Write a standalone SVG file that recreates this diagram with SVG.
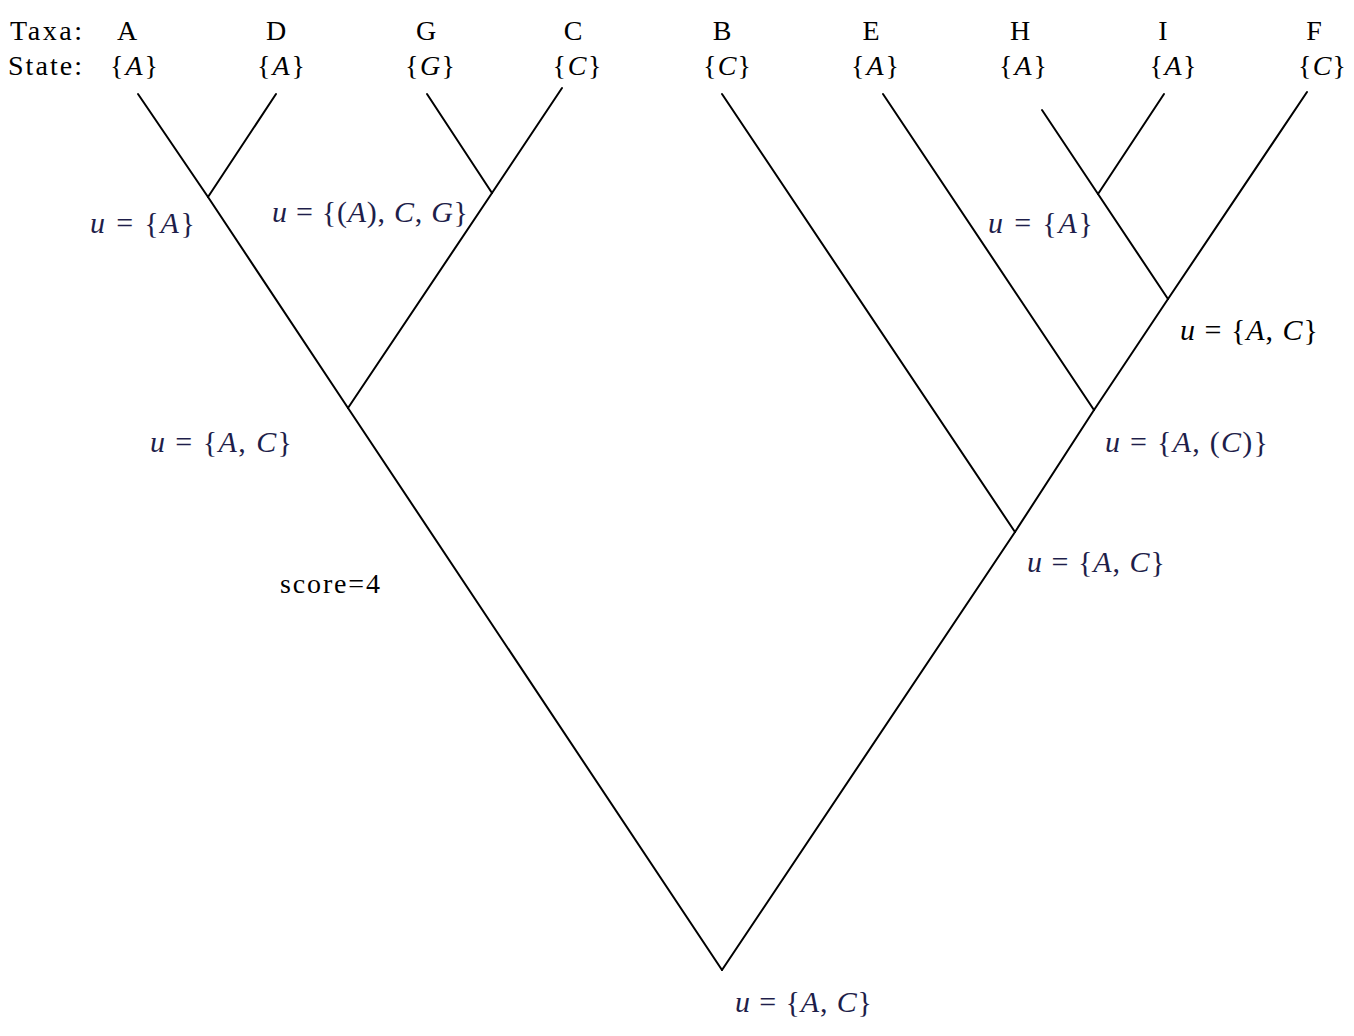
<svg xmlns="http://www.w3.org/2000/svg" width="1354" height="1036" viewBox="0 0 1354 1036">
<style>
  .t { font-family: "Liberation Serif", "DejaVu Serif", serif; font-size: 28px; fill: #000; }
  .m { font-family: "Liberation Serif", "DejaVu Serif", serif; font-size: 30px; fill: #1e1e4a; }
  .k { fill: #000; }
  .i { font-style: italic; }
  .e { stroke: #000; stroke-width: 2; fill: none; stroke-linecap: round; }
</style>
<rect width="1354" height="1036" fill="#fff"/>
<g id="edges">
  <line class="e" x1="722" y1="970" x2="348" y2="408"/>
  <line class="e" x1="348" y1="408" x2="208" y2="197"/>
  <line class="e" x1="208" y1="197" x2="138" y2="94"/>
  <line class="e" x1="208" y1="197" x2="276" y2="94"/>
  <line class="e" x1="348" y1="408" x2="492" y2="193"/>
  <line class="e" x1="492" y1="193" x2="427" y2="94"/>
  <line class="e" x1="492" y1="193" x2="562" y2="88"/>
  <line class="e" x1="722" y1="970" x2="1015" y2="532"/>
  <line class="e" x1="1015" y1="532" x2="722" y2="94"/>
  <line class="e" x1="1015" y1="532" x2="1094" y2="410"/>
  <line class="e" x1="1094" y1="410" x2="883" y2="94"/>
  <line class="e" x1="1094" y1="410" x2="1168" y2="299"/>
  <line class="e" x1="1168" y1="299" x2="1307" y2="92"/>
  <line class="e" x1="1168" y1="299" x2="1098" y2="194"/>
  <line class="e" x1="1098" y1="194" x2="1042" y2="110"/>
  <line class="e" x1="1098" y1="194" x2="1164" y2="94"/>
</g>
<g id="header">
  <text class="t" x="10" y="40" textLength="72">Taxa:</text>
  <text class="t" x="8" y="75" textLength="74">State:</text>
</g>
<g id="leaf-A">
  <text class="t" x="127" y="40" text-anchor="middle">A</text>
  <text class="t" x="134" y="75" text-anchor="middle" textLength="48">{<tspan class="i">A</tspan>}</text>
</g>
<g id="leaf-D">
  <text class="t" x="276" y="40" text-anchor="middle">D</text>
  <text class="t" x="281" y="75" text-anchor="middle" textLength="48">{<tspan class="i">A</tspan>}</text>
</g>
<g id="leaf-G">
  <text class="t" x="426" y="40" text-anchor="middle">G</text>
  <text class="t" x="430" y="75" text-anchor="middle" textLength="50">{<tspan class="i">G</tspan>}</text>
</g>
<g id="leaf-C">
  <text class="t" x="573" y="40" text-anchor="middle">C</text>
  <text class="t" x="577" y="75" text-anchor="middle" textLength="49">{<tspan class="i">C</tspan>}</text>
</g>
<g id="leaf-B">
  <text class="t" x="722" y="40" text-anchor="middle">B</text>
  <text class="t" x="727" y="75" text-anchor="middle" textLength="48">{<tspan class="i">C</tspan>}</text>
</g>
<g id="leaf-E">
  <text class="t" x="871" y="40" text-anchor="middle">E</text>
  <text class="t" x="875" y="75" text-anchor="middle" textLength="48">{<tspan class="i">A</tspan>}</text>
</g>
<g id="leaf-H">
  <text class="t" x="1020" y="40" text-anchor="middle">H</text>
  <text class="t" x="1023" y="75" text-anchor="middle" textLength="48">{<tspan class="i">A</tspan>}</text>
</g>
<g id="leaf-I">
  <text class="t" x="1163" y="40" text-anchor="middle">I</text>
  <text class="t" x="1173" y="75" text-anchor="middle" textLength="47">{<tspan class="i">A</tspan>}</text>
</g>
<g id="leaf-F">
  <text class="t" x="1314" y="40" text-anchor="middle">F</text>
  <text class="t" x="1322" y="75" text-anchor="middle" textLength="48">{<tspan class="i">C</tspan>}</text>
</g>
<g id="node-AD">
  <text class="m" x="90" y="233" textLength="105"><tspan class="i">u</tspan> = {<tspan class="i">A</tspan>}</text>
</g>
<g id="node-GC">
  <text class="m" x="272" y="222" textLength="196"><tspan class="i">u</tspan> = {(<tspan class="i">A</tspan>), <tspan class="i">C</tspan>, <tspan class="i">G</tspan>}</text>
</g>
<g id="node-left">
  <text class="m" x="150" y="452" textLength="142"><tspan class="i">u</tspan> = {<tspan class="i">A</tspan>, <tspan class="i">C</tspan>}</text>
</g>
<g id="node-HI">
  <text class="m" x="988" y="233" textLength="105"><tspan class="i">u</tspan> = {<tspan class="i">A</tspan>}</text>
</g>
<g id="node-HIF">
  <text class="m k" x="1180" y="340" textLength="138"><tspan class="i">u</tspan> = {<tspan class="i">A</tspan>, <tspan class="i">C</tspan>}</text>
</g>
<g id="node-E">
  <text class="m" x="1105" y="452" textLength="163"><tspan class="i">u</tspan> = {<tspan class="i">A</tspan>, (<tspan class="i">C</tspan>)}</text>
</g>
<g id="node-B">
  <text class="m" x="1027" y="572" textLength="138"><tspan class="i">u</tspan> = {<tspan class="i">A</tspan>, <tspan class="i">C</tspan>}</text>
</g>
<g id="node-root">
  <text class="m" x="735" y="1012" textLength="137"><tspan class="i">u</tspan> = {<tspan class="i">A</tspan>, <tspan class="i">C</tspan>}</text>
</g>
<g id="score">
  <text class="t" x="280" y="593" textLength="100">score=4</text>
</g>
</svg>
